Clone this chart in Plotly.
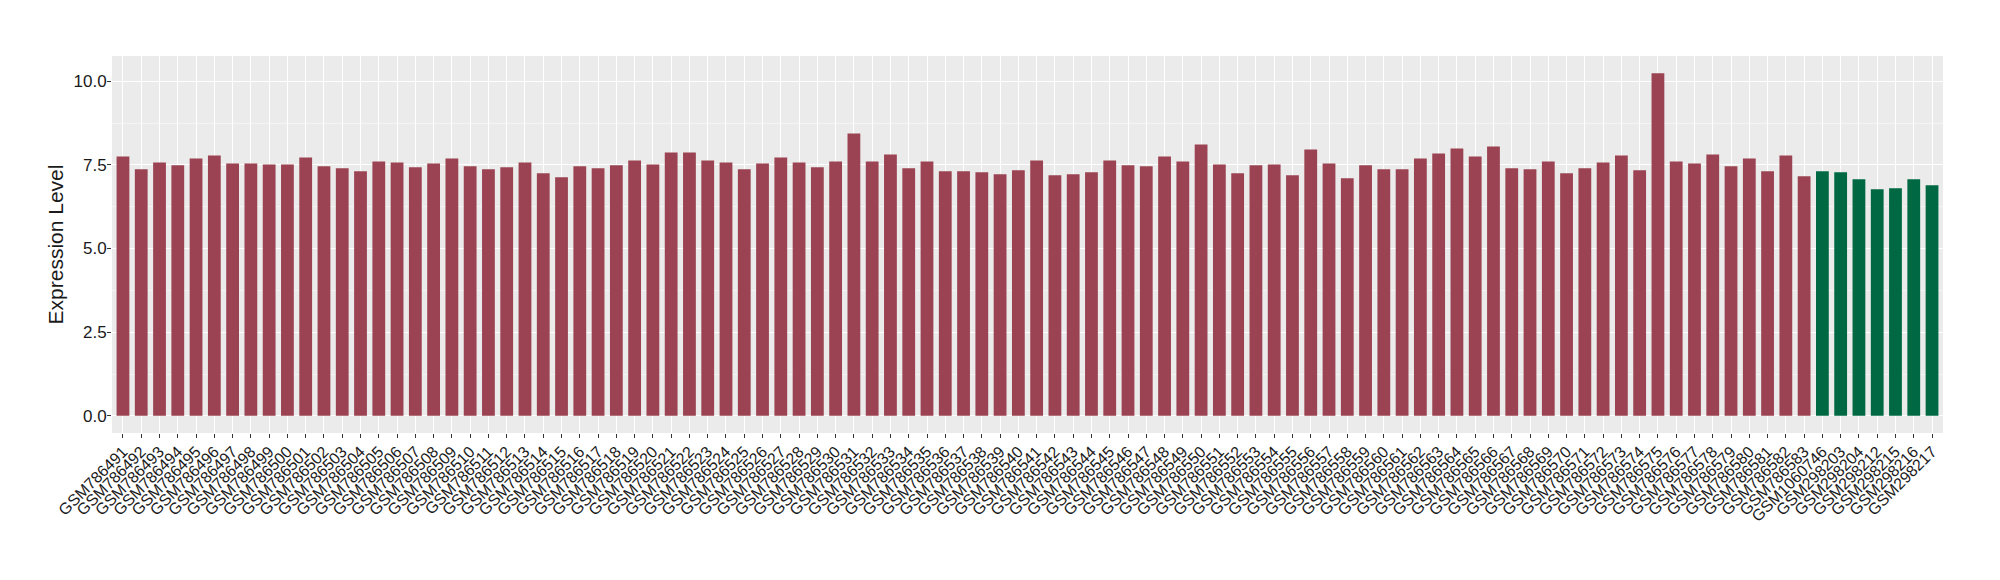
import plotly.graph_objects as go

red_samples = [
    "GSM786491","GSM786492","GSM786493","GSM786494","GSM786495","GSM786496","GSM786497","GSM786498",
    "GSM786499","GSM786500","GSM786501","GSM786502","GSM786503","GSM786504","GSM786505","GSM786506",
    "GSM786507","GSM786508","GSM786509","GSM786510","GSM786511","GSM786512","GSM786513","GSM786514",
    "GSM786515","GSM786516","GSM786517","GSM786518","GSM786519","GSM786520","GSM786521","GSM786522",
    "GSM786523","GSM786524","GSM786525","GSM786526","GSM786527","GSM786528","GSM786529","GSM786530",
    "GSM786531","GSM786532","GSM786533","GSM786534","GSM786535","GSM786536","GSM786537","GSM786538",
    "GSM786539","GSM786540","GSM786541","GSM786542","GSM786543","GSM786544","GSM786545","GSM786546",
    "GSM786547","GSM786548","GSM786549","GSM786550","GSM786551","GSM786552","GSM786553","GSM786554",
    "GSM786555","GSM786556","GSM786557","GSM786558","GSM786559","GSM786560","GSM786561","GSM786562",
    "GSM786563","GSM786564","GSM786565","GSM786566","GSM786567","GSM786568","GSM786569","GSM786570",
    "GSM786571","GSM786572","GSM786573","GSM786574","GSM786575","GSM786576","GSM786577","GSM786578",
    "GSM786579","GSM786580","GSM786581","GSM786582","GSM786583",
]
red_values = [
    7.75, 7.37, 7.57, 7.49, 7.69, 7.78, 7.54, 7.54, 7.51, 7.51, 7.72, 7.46, 7.40, 7.31, 7.60, 7.57,
    7.43, 7.54, 7.69, 7.46, 7.37, 7.43, 7.57, 7.25, 7.13, 7.46, 7.40, 7.49, 7.63, 7.51, 7.87, 7.87,
    7.63, 7.57, 7.37, 7.54, 7.72, 7.57, 7.43, 7.60, 8.44, 7.60, 7.81, 7.40, 7.60, 7.31, 7.31, 7.28,
    7.22, 7.34, 7.63, 7.19, 7.22, 7.28, 7.63, 7.49, 7.46, 7.75, 7.60, 8.11, 7.51, 7.25, 7.49, 7.51,
    7.19, 7.96, 7.54, 7.10, 7.49, 7.37, 7.37, 7.69, 7.84, 7.99, 7.75, 8.05, 7.40, 7.37, 7.60, 7.25,
    7.40, 7.57, 7.78, 7.34, 10.24, 7.60, 7.54, 7.81, 7.46, 7.69, 7.31, 7.78, 7.16,
]
green_samples = ["GSM1060746","GSM298203","GSM298204","GSM298212","GSM298215","GSM298216","GSM298217"]
green_values = [7.31, 7.28, 7.07, 6.77, 6.80, 7.07, 6.89]

y_ticks = [0.0, 2.5, 5.0, 7.5, 10.0]
y_tick_labels = ["0.0", "2.5", "5.0", "7.5", "10.0"]
y_minor = [1.25, 3.75, 6.25, 8.75]

RED = "#9B4352"
GREEN = "#006843"

all_samples = red_samples + green_samples
all_values = red_values + green_values
ymax = max(all_values)

fig = go.Figure()
fig.add_trace(go.Bar(x=red_samples, y=red_values, marker=dict(color=RED, line=dict(width=0)),
                     width=0.7, showlegend=False))
fig.add_trace(go.Bar(x=green_samples, y=green_values, marker=dict(color=GREEN, line=dict(width=0)),
                     width=0.7, showlegend=False))

fig.update_layout(
    width=2000, height=580,
    paper_bgcolor="white", plot_bgcolor="#EBEBEB",
    margin=dict(l=104, r=65, t=48, b=155, autoexpand=False),
    bargap=0.3,
    font=dict(family="Liberation Sans, Arial, sans-serif", color="#1a1a1a"),
)
fig.update_xaxes(
    type="category", categoryorder="array", categoryarray=all_samples,
    tickmode="array", tickvals=all_samples, ticktext=all_samples,
    range=[-0.6, len(all_samples) - 1 + 0.6],
    showgrid=True, gridcolor="white", gridwidth=1.2,
    ticks="outside", ticklen=4, tickcolor="#333333", tickwidth=1,
    tickangle=-45, tickfont=dict(family="Liberation Sans, Arial, sans-serif", size=16, color="#1a1a1a"),
    ticklabelstandoff=-2,
    showline=False, zeroline=False, automargin=False,
)
fig.update_yaxes(
    range=[-0.05 * ymax, ymax * 1.05],
    tickvals=y_ticks, ticktext=y_tick_labels,
    showgrid=True, gridcolor="white", gridwidth=1.4,
    minor=dict(tickvals=y_minor, showgrid=True, gridcolor="#F4F4F4", gridwidth=0.8, ticks=""),
    ticks="outside", ticklen=4, tickcolor="#333333", tickwidth=1,
    tickfont=dict(family="Liberation Sans Narrow, Liberation Sans, Arial, sans-serif", size=17, color="#1a1a1a"),
    ticklabelstandoff=-3,
    title=dict(text="Expression Level", font=dict(size=21, color="#1a1a1a"), standoff=4),
    zeroline=False, showline=False, automargin=False,
)

fig.write_html("out.html")
